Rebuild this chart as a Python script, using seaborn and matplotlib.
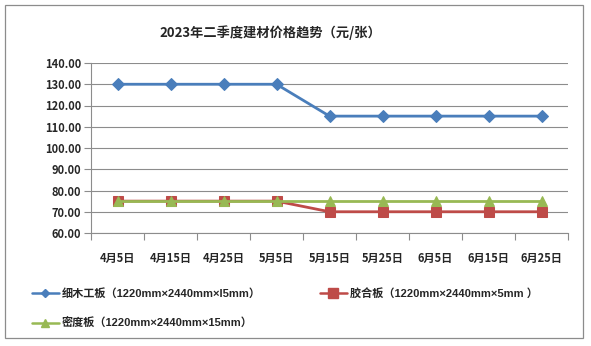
import matplotlib
matplotlib.use("Agg")
import matplotlib.pyplot as plt
import seaborn as sns
import pandas as pd
from matplotlib.patches import Rectangle
from matplotlib.lines import Line2D
from matplotlib.font_manager import FontProperties
from matplotlib.ticker import FixedLocator

dates = ["4月5日", "4月15日", "4月25日", "5月5日", "5月15日", "5月25日", "6月5日", "6月15日", "6月25日"]
blockboard = [130, 130, 130, 130, 115, 115, 115, 115, 115]
plywood = [75, 75, 75, 75, 70, 70, 70, 70, 70]
mdf = [75, 75, 75, 75, 75, 75, 75, 75, 75]
series_names = ["细木工板（1220mm×2440mm×l5mm）", "胶合板（1220mm×2440mm×5mm ）", "密度板（1220mm×2440mm×15mm）"]
title = "2023年二季度建材价格趋势（元/张）"

sns.set_theme(style="white")
plt.rcParams["font.family"] = ["Noto Sans CJK SC", "DejaVu Sans"]

df = pd.DataFrame({
    "idx": list(range(len(dates))) * 3,
    "price": blockboard + plywood + mdf,
    "series": [series_names[0]] * 9 + [series_names[1]] * 9 + [series_names[2]] * 9,
})

colors = {series_names[0]: "#4A7EBB", series_names[1]: "#BE4B48", series_names[2]: "#98B954"}
markers = {series_names[0]: "D", series_names[1]: "s", series_names[2]: "^"}
msizes = {series_names[0]: 6, series_names[1]: 7.5, series_names[2]: 7}

fig = plt.figure(figsize=(5.91, 3.46), dpi=100)
fig.patch.set_facecolor("white")
fig.patches.append(Rectangle((5 / 591, 1 - 338 / 346), 578 / 591, 333 / 346,
                             transform=fig.transFigure, fill=False,
                             edgecolor="#8c8c8c", linewidth=0.9))

ax = fig.add_axes([91 / 591, 1 - 233 / 346, 477 / 591, 170 / 346])

for name in series_names:
    sub = df[df["series"] == name]
    sns.lineplot(data=sub, x="idx", y="price", ax=ax, color=colors[name],
                 marker=markers[name], markersize=msizes[name],
                 markeredgecolor=colors[name], linewidth=2.0, legend=False)

ax.set_xlim(-0.5, len(dates) - 0.5)
ax.set_ylim(60, 140)
yticks = list(range(60, 141, 10))
ax.set_yticks(yticks)
ax.set_yticklabels([f"{v:.2f}" for v in yticks], fontsize=8, fontweight="bold")
ax.set_xticks(range(len(dates)))
ax.set_xticklabels(dates, fontsize=8, fontweight="bold")
ax.xaxis.set_minor_locator(FixedLocator([i - 0.5 for i in range(len(dates) + 1)]))
ax.tick_params(axis="x", which="major", length=0, pad=14)
ax.tick_params(axis="x", which="minor", length=5, color="#8c8c8c", width=0.8, direction="out", bottom=True)
ax.tick_params(axis="y", which="major", length=5, color="#8c8c8c", width=0.8, direction="out", left=True, pad=2)
ax.set_xlabel("")
ax.set_ylabel("")
ax.grid(axis="y", color="#8c8c8c", linewidth=0.8)
ax.set_axisbelow(True)
for side in ["top", "right"]:
    ax.spines[side].set_visible(False)
for side in ["left", "bottom"]:
    ax.spines[side].set_color("#8c8c8c")
    ax.spines[side].set_linewidth(0.8)

fig.text(270 / 591, 1 - 33 / 346, title, ha="center", va="center", fontsize=9.5, fontweight="bold")

# legend keys use smaller markers and a thinner stroke than the plotted series
legend_sizes = {series_names[0]: 4.5, series_names[1]: 6.5, series_names[2]: 5.5}
order = [series_names[0], series_names[2], series_names[1]]
keys = [Line2D([], [], color=colors[n], marker=markers[n], markersize=legend_sizes[n],
               markeredgecolor=colors[n], linewidth=1.8) for n in order]
legend_font = FontProperties(family=["Liberation Sans", "Noto Sans CJK SC"], size=8, weight="bold")
fig.legend(keys, order, ncol=2, loc="upper left",
           bbox_to_anchor=(22 / 591, 1 - 278 / 346), frameon=False,
           prop=legend_font, handlelength=2.4,
           columnspacing=5.3, labelspacing=1.65, handletextpad=0.3)

fig.savefig("out.png", dpi=100)
